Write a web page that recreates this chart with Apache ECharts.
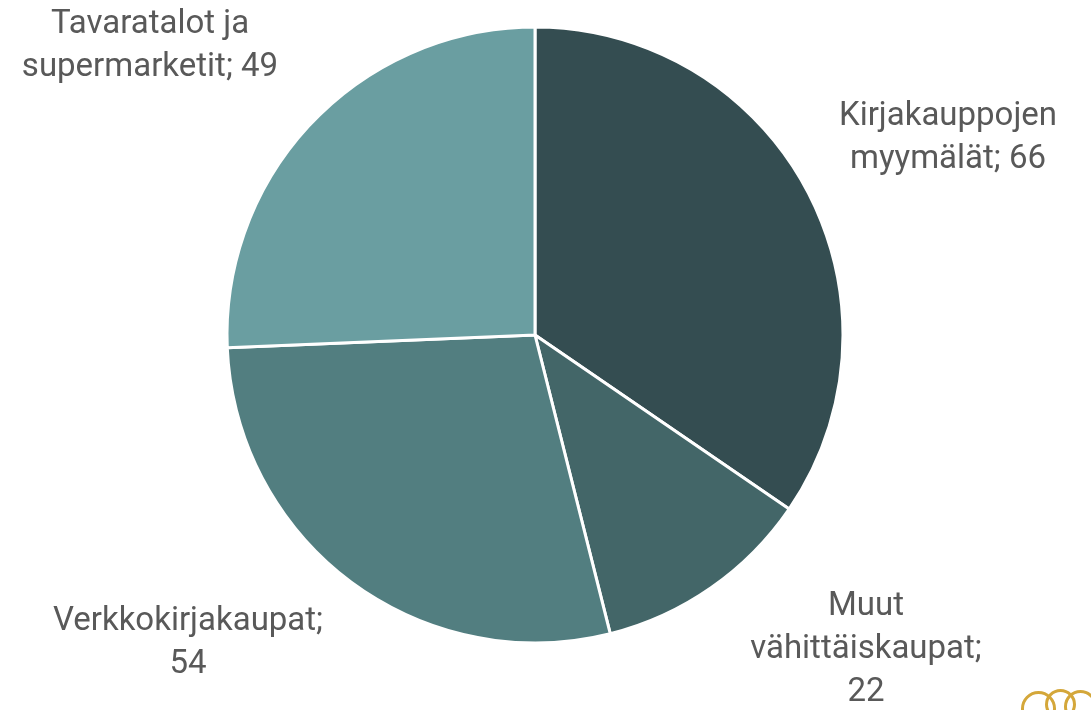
<!DOCTYPE html>
<html>
<head>
<meta charset="utf-8">
<script src="https://cdn.jsdelivr.net/npm/echarts@6/dist/echarts.min.js"></script>
<style>
  html, body { margin: 0; padding: 0; background: #fff; }
  #main { width: 1091px; height: 710px; }
</style>
</head>
<body>
<div id="main"></div>
<script>
// data
var categories = ['Kirjakauppojen\nmyymälät', 'Muut\nvähittäiskaupat', 'Verkkokirjakaupat', 'Tavaratalot ja\nsupermarketit'];
var values = [66, 22, 54, 49];
var colors = ['#344d51', '#436668', '#527e80', '#6a9ea1'];
// label text as shown (line breaks like in the picture)
var labelTexts = ['Kirjakauppojen\nmyymälät; 66', 'Muut\nvähittäiskaupat;\n22', 'Verkkokirjakaupat;\n54', 'Tavaratalot ja\nsupermarketit; 49'];
// label centre positions (px)
var labelPos = [[948, 138], [866, 650], [188, 643], [150, 46]];

var myChart = echarts.init(document.getElementById('main'));

var option = {
  animation: false,
  series: [
    {
      type: 'pie',
      center: [535, 335],
      radius: 308,
      startAngle: 90,
      clockwise: true,
      itemStyle: { borderColor: '#fff', borderWidth: 3 },
      label: {
        show: true,
        position: 'outside',
        formatter: function (p) { return labelTexts[p.dataIndex]; },
        color: '#595959',
        fontSize: 33,
        lineHeight: 43,
        fontFamily: 'Roboto, sans-serif',
        align: 'center'
      },
      labelLine: { show: false },
      labelLayout: function (params) {
        var p = labelPos[params.dataIndex];
        return { x: p[0], y: p[1], align: 'center', verticalAlign: 'middle' };
      },
      data: values.map(function (v, i) {
        return { name: categories[i], value: v, itemStyle: { color: colors[i] } };
      })
    }
  ],
  graphic: [
    {
      type: 'group',
      left: 1020,
      top: 688,
      children: [
        { type: 'circle', shape: { cx: 20, cy: 22, r: 16 }, style: { fill: 'none', stroke: '#d4a73a', lineWidth: 3 } },
        { type: 'circle', shape: { cx: 42, cy: 18, r: 14 }, style: { fill: 'none', stroke: '#d4a73a', lineWidth: 3 } },
        { type: 'circle', shape: { cx: 62, cy: 20, r: 15 }, style: { fill: 'none', stroke: '#d4a73a', lineWidth: 3 } }
      ]
    }
  ]
};

myChart.setOption(option);
</script>
</body>
</html>
